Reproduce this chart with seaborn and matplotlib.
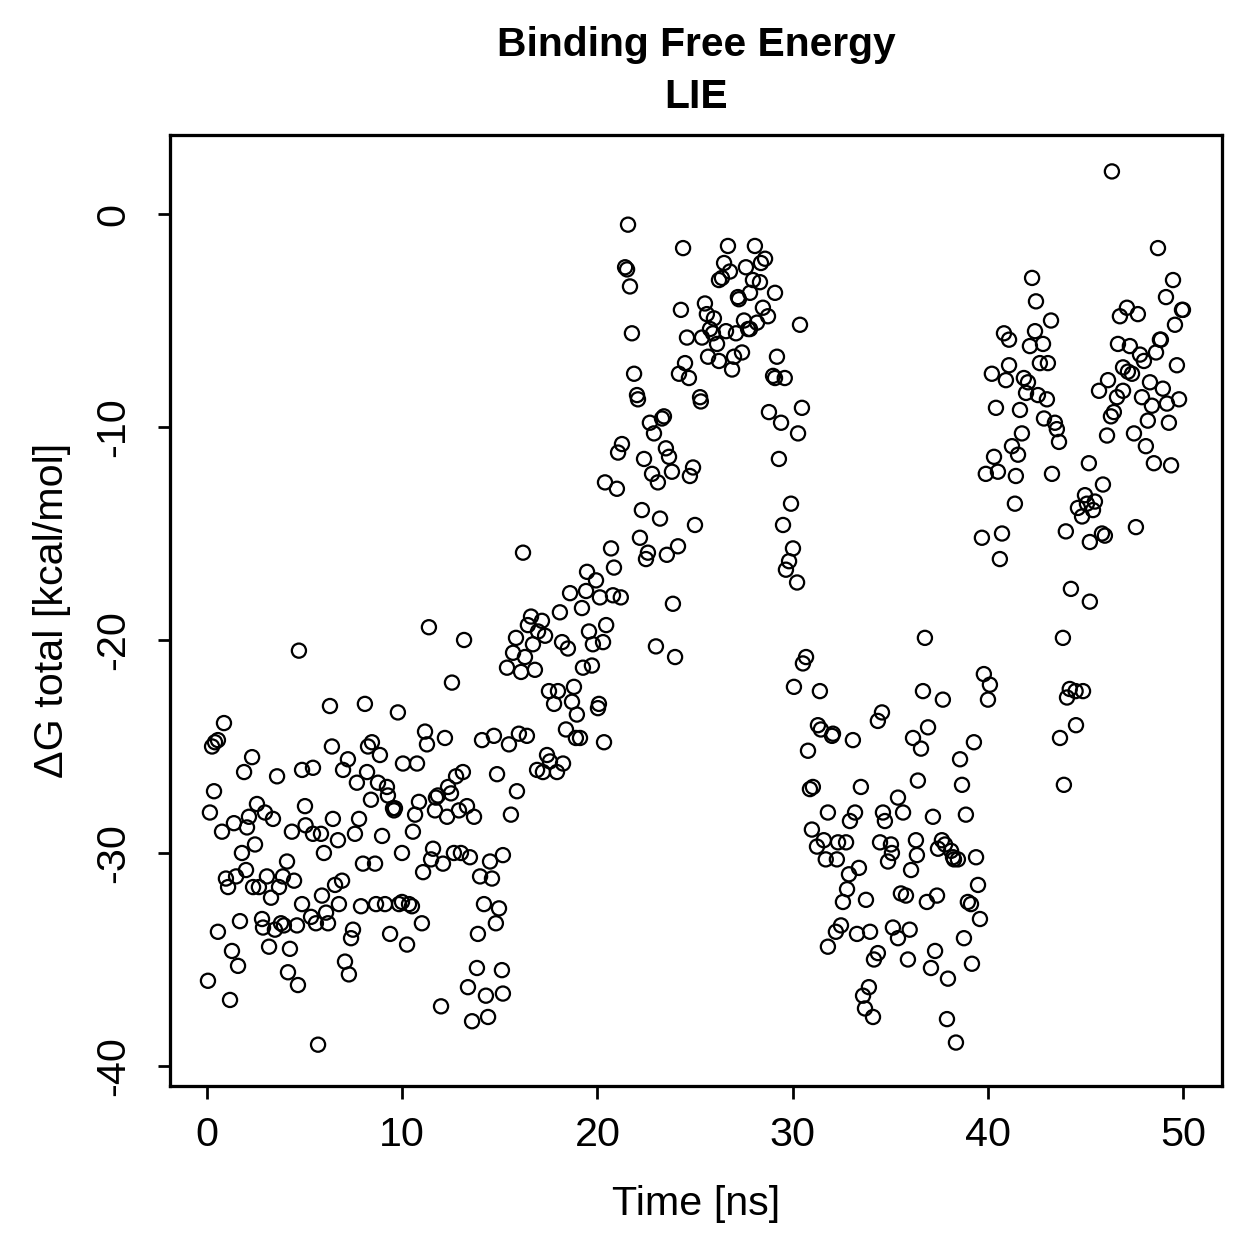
import numpy as np
import pandas as pd
import matplotlib
matplotlib.use("Agg")
import matplotlib.pyplot as plt
import seaborn as sns

# ---------------- data (time in ns, dG in kcal/mol) ----------------
time_00_05 = [4.71, 0.87, 0.56, 0.41, 0.26, 2.31, 1.90, 3.59, 4.87, 0.36, 0.15, 2.56, 2.15, 2.97, 3.38,
              1.38, 0.77, 2.05, 4.35, 5.02, 5.05, 2.46, 1.79, 4.10, 2.00, 0.97, 1.08, 1.49, 2.36, 2.66,
              3.07, 3.89, 3.69, 4.46, 3.28, 4.87, 1.69, 0.56, 2.82, 2.87, 3.48, 3.79, 3.94, 4.61, 1.28,
              3.18, 4.25, 1.59, 4.15, 4.66, 0.05, 1.18]
dg_00_05 = [-20.5, -23.9, -24.7, -24.8, -25.0, -25.5, -26.2, -26.4, -26.1, -27.1, -28.1, -27.7, -28.3, -28.1, -28.4,
            -28.6, -29.0, -28.8, -29.0, -27.8, -28.7, -29.6, -30.0, -30.4, -30.8, -31.2, -31.6, -31.1, -31.6, -31.6,
            -31.1, -31.1, -31.6, -31.3, -32.1, -32.4, -33.2, -33.7, -33.1, -33.5, -33.6, -33.3, -33.4, -33.4, -34.6,
            -34.4, -34.5, -35.3, -35.6, -36.2, -36.0, -36.9]

time_05_10 = [6.30, 8.09, 9.78, 6.40, 8.45, 8.25, 8.86, 10.04, 5.43, 7.22, 6.97, 8.20, 7.68, 8.76, 9.22,
              9.27, 8.40, 9.53, 9.63, 9.58, 6.45, 7.79, 5.43, 5.84, 6.71, 7.58, 8.97, 5.99, 9.99, 7.99,
              8.61, 6.92, 6.56, 5.89, 6.76, 7.89, 8.66, 9.12, 9.84, 9.99, 5.33, 6.10, 5.58, 6.20, 7.48,
              7.38, 9.38, 10.25, 7.07, 7.27, 5.69]
dg_05_10 = [-23.1, -23.0, -23.4, -25.0, -24.8, -25.0, -25.4, -25.8, -26.0, -25.6, -26.1, -26.2, -26.7, -26.7, -26.9,
            -27.3, -27.5, -27.9, -27.9, -28.0, -28.4, -28.4, -29.1, -29.1, -29.4, -29.1, -29.2, -30.0, -30.0, -30.5,
            -30.5, -31.3, -31.5, -32.0, -32.4, -32.5, -32.4, -32.4, -32.4, -32.3, -33.0, -32.8, -33.3, -33.3, -33.6,
            -34.0, -33.8, -34.3, -35.1, -35.7, -39.0]

time_10_15 = [11.37, 13.17, 12.55, 11.17, 11.27, 12.19, 14.09, 14.70, 10.76, 12.76, 13.11, 14.86, 12.35, 11.83, 11.73,
              12.50, 10.86, 10.66, 11.68, 12.30, 12.91, 13.32, 13.68, 10.55, 11.58, 11.48, 12.09, 12.65, 13.01, 13.47,
              11.07, 14.50, 13.99, 14.60, 15.16, 10.35, 10.50, 14.19, 14.96, 11.01, 14.80, 13.88, 13.83, 15.11, 13.37,
              14.29, 15.16, 11.99, 13.58, 14.40]
dg_10_15 = [-19.4, -20.0, -22.0, -24.3, -24.9, -24.6, -24.7, -24.5, -25.8, -26.4, -26.2, -26.3, -26.9, -27.3, -27.4,
            -27.2, -27.6, -28.2, -28.0, -28.3, -28.0, -27.8, -28.3, -29.0, -29.8, -30.3, -30.5, -30.0, -30.0, -30.2,
            -30.9, -30.4, -31.1, -31.2, -30.1, -32.4, -32.5, -32.4, -32.6, -33.3, -33.3, -33.8, -35.4, -35.5, -36.3,
            -36.7, -36.6, -37.2, -37.9, -37.7]

time_15_20 = [16.19, 19.47, 19.93, 18.60, 19.42, 20.13, 19.21, 18.08, 16.60, 17.16, 16.44, 16.96, 17.32, 15.83, 16.70,
              18.19, 18.49, 19.57, 19.77, 20.45, 20.29, 15.68, 16.29, 15.37, 16.09, 16.80, 19.26, 19.72, 17.52, 17.98,
              18.80, 17.78, 18.70, 18.95, 20.03, 20.08, 15.98, 16.39, 15.47, 18.39, 18.90, 19.11, 20.34, 17.42, 17.57,
              18.24, 16.91, 17.21, 17.93, 15.88, 15.57]
dg_15_20 = [-15.9, -16.8, -17.2, -17.8, -17.7, -18.0, -18.5, -18.7, -18.9, -19.1, -19.3, -19.6, -19.8, -19.9, -20.2,
            -20.1, -20.4, -19.6, -20.2, -19.3, -20.1, -20.6, -20.8, -21.3, -21.5, -21.4, -21.3, -21.2, -22.4, -22.4,
            -22.2, -23.0, -22.9, -23.5, -23.2, -23.0, -24.4, -24.5, -24.9, -24.2, -24.6, -24.6, -24.8, -25.4, -25.7,
            -25.8, -26.1, -26.2, -26.2, -27.1, -28.2]

time_20_25 = [21.57, 24.39, 21.42, 21.52, 21.67, 24.28, 21.77, 24.59, 21.88, 24.49, 24.18, 24.69, 22.03, 22.08, 22.69,
              22.90, 23.31, 23.41, 21.26, 21.06, 22.39, 23.51, 23.67, 24.90, 24.74, 22.80, 23.10, 23.82, 20.39, 21.00,
              22.28, 23.21, 25.00, 22.18, 20.70, 22.59, 22.49, 23.56, 24.13, 20.85, 20.80, 21.20, 23.87, 23.00, 23.98]
dg_20_25 = [-0.5, -1.6, -2.5, -2.6, -3.4, -4.5, -5.6, -5.8, -7.5, -7.0, -7.5, -7.7, -8.5, -8.7, -9.8,
            -10.3, -9.6, -9.5, -10.8, -11.2, -11.5, -11.0, -11.4, -11.9, -12.3, -12.2, -12.6, -12.1, -12.6, -12.9,
            -13.9, -14.3, -14.6, -15.2, -15.7, -15.9, -16.2, -16.0, -15.6, -16.6, -17.9, -18.0, -18.3, -20.3, -20.8]

time_25_30 = [26.69, 28.07, 28.59, 28.38, 26.49, 26.79, 26.38, 26.23, 27.61, 27.97, 28.33, 29.10, 27.82, 27.20, 27.25,
              25.51, 25.61, 25.97, 28.48, 28.74, 27.51, 27.72, 27.82, 28.18, 30.38, 25.77, 25.92, 25.36, 26.13, 26.59,
              27.10, 25.67, 26.23, 27.41, 27.00, 26.90, 29.20, 29.00, 29.10, 29.60, 25.26, 25.30, 30.48, 28.79, 29.41,
              30.28, 29.30, 29.92, 29.51, 30.02, 29.82, 29.66, 30.23]
dg_25_30 = [-1.5, -1.5, -2.1, -2.3, -2.3, -2.7, -3.0, -3.1, -2.5, -3.1, -3.2, -3.7, -3.7, -3.9, -4.0,
            -4.2, -4.7, -4.9, -4.4, -4.8, -5.0, -5.4, -5.4, -5.1, -5.2, -5.4, -5.6, -5.8, -6.1, -5.5,
            -5.6, -6.7, -6.9, -6.5, -6.7, -7.3, -6.7, -7.6, -7.7, -7.7, -8.6, -8.8, -9.1, -9.3, -9.8,
            -10.3, -11.5, -13.6, -14.6, -15.7, -16.3, -16.7, -17.3]

time_30_35 = [30.69, 30.53, 30.07, 31.40, 34.58, 34.37, 31.30, 31.45, 32.07, 32.02, 33.09, 30.79, 31.04, 30.89, 33.50,
              31.81, 33.20, 32.94, 34.63, 34.73, 30.99, 31.60, 31.25, 32.33, 32.74, 34.48, 35.04, 35.09, 34.89, 31.70,
              32.27, 33.40, 32.89, 32.79, 32.58, 33.76, 32.48, 32.22, 33.30, 33.97, 35.14, 35.40, 31.81, 34.37, 34.17,
              33.91, 33.61, 33.71, 34.12]
dg_30_35 = [-20.8, -21.1, -22.2, -22.4, -23.4, -23.8, -24.0, -24.2, -24.4, -24.5, -24.7, -25.2, -26.9, -27.0, -26.9,
            -28.1, -28.1, -28.5, -28.1, -28.5, -28.9, -29.4, -29.7, -29.5, -29.5, -29.5, -29.6, -30.0, -30.4, -30.3,
            -30.3, -30.7, -31.0, -31.7, -32.3, -32.2, -33.4, -33.7, -33.8, -33.7, -33.5, -34.0, -34.4, -34.7, -35.0,
            -36.3, -36.7, -37.3, -37.7]

time_35_40 = [36.78, 39.80, 40.11, 40.01, 36.68, 37.70, 36.94, 36.17, 36.58, 39.29, 38.58, 36.42, 38.68, 35.40, 35.66,
              37.19, 38.88, 36.32, 36.37, 37.65, 37.45, 37.81, 38.12, 38.22, 38.47, 38.27, 39.40, 36.07, 39.50, 35.55,
              35.81, 37.40, 36.88, 38.98, 39.14, 39.60, 36.00, 38.78, 37.30, 35.91, 37.09, 37.96, 39.19, 37.91, 38.37]
dg_35_40 = [-19.9, -21.6, -22.1, -22.8, -22.4, -22.8, -24.1, -24.6, -25.1, -24.8, -25.6, -26.6, -26.8, -27.4, -28.1,
            -28.3, -28.2, -29.4, -30.1, -29.4, -29.8, -29.6, -29.9, -30.2, -30.3, -30.3, -30.2, -30.8, -31.5, -31.9,
            -32.0, -32.0, -32.3, -32.3, -32.4, -33.1, -33.6, -34.0, -34.6, -35.0, -35.4, -35.9, -35.2, -37.8, -38.9]

time_40_45 = [42.27, 42.47, 43.24, 40.83, 41.09, 42.42, 42.83, 42.16, 42.67, 43.08, 41.09, 40.21, 40.93, 41.85, 42.06,
              41.96, 42.57, 43.03, 40.42, 41.65, 42.88, 43.44, 43.54, 43.65, 41.75, 41.24, 41.55, 40.32, 39.90, 40.52,
              41.44, 43.29, 45.18, 41.39, 44.98, 44.62, 44.83, 45.08, 44.00, 39.70, 40.73, 40.62, 44.26, 45.23, 43.85,
              44.20, 44.50, 44.88, 44.06, 44.52, 43.70, 43.90]
dg_40_45 = [-3.0, -4.1, -5.0, -5.6, -5.9, -5.5, -6.1, -6.2, -7.0, -7.0, -7.1, -7.5, -7.8, -7.7, -7.9,
            -8.4, -8.5, -8.7, -9.1, -9.2, -9.6, -9.8, -10.1, -10.7, -10.3, -10.9, -11.3, -11.4, -12.2, -12.1,
            -12.3, -12.2, -11.7, -13.6, -13.2, -13.8, -14.2, -13.6, -14.9, -15.2, -15.0, -16.2, -17.6, -18.2, -19.9,
            -22.3, -22.4, -22.4, -22.7, -24.0, -24.6, -26.8]

time_45_50 = [46.36, 48.72, 49.49, 49.13, 49.95, 50.00, 47.13, 46.77, 47.69, 49.59, 48.82, 48.87, 46.67, 47.28, 47.80,
              48.00, 48.62, 49.69, 46.93, 47.18, 47.39, 46.16, 45.70, 46.93, 46.62, 48.31, 48.97, 47.90, 48.41, 49.18,
              49.80, 46.46, 46.31, 48.20, 49.28, 46.11, 47.49, 48.10, 48.51, 49.39, 45.90, 45.49, 45.39, 47.59, 45.85,
              46.00, 45.23]
dg_45_50 = [2.0, -1.6, -3.1, -3.9, -4.5, -4.5, -4.4, -4.8, -4.7, -5.2, -5.9, -5.9, -6.1, -6.2, -6.6,
            -6.9, -6.5, -7.1, -7.2, -7.4, -7.5, -7.8, -8.3, -8.3, -8.6, -7.9, -8.2, -8.6, -9.0, -8.9,
            -8.7, -9.3, -9.5, -9.7, -9.8, -10.4, -10.3, -10.9, -11.7, -11.8, -12.7, -13.5, -13.9, -14.7, -15.0,
            -15.1, -15.4]

x_ticks = [0, 10, 20, 30, 40, 50]
y_ticks = [0, -10, -20, -30, -40]
title_text = "Binding Free Energy\nLIE"
x_label = "Time [ns]"
y_label = "\u0394G total [kcal/mol]"

# ---------------- assemble ----------------
times = (time_00_05 + time_05_10 + time_10_15 + time_15_20 + time_20_25 +
         time_25_30 + time_30_35 + time_35_40 + time_40_45 + time_45_50)
dgs = (dg_00_05 + dg_05_10 + dg_10_15 + dg_15_20 + dg_20_25 +
       dg_25_30 + dg_30_35 + dg_35_40 + dg_40_45 + dg_45_50)
df = pd.DataFrame({"time": times, "dg": dgs})

sns.set_style("ticks")
plt.rcParams["font.family"] = ["Liberation Sans", "DejaVu Sans"]
plt.rcParams["text.color"] = "black"
plt.rcParams["axes.labelcolor"] = "black"
plt.rcParams["xtick.color"] = "black"
plt.rcParams["ytick.color"] = "black"

W = 1259 / 180
fig = plt.figure(figsize=(W, W), dpi=180)
ax = fig.add_axes([170 / 1259, 1 - 1086 / 1259, 1052 / 1259, 951 / 1259])

sns.scatterplot(data=df, x="time", y="dg", ax=ax, marker="o", s=32,
                linewidth=0.9, edgecolor="black", legend=False)
ax.collections[0].set_facecolor("none")
ax.collections[0].set_edgecolor("black")

ax.set_xlim(-1.895, 52.0)
ax.set_ylim(-40.94, 3.71)
ax.set_xticks(x_ticks)
ax.set_yticks(y_ticks)
ax.set_xticklabels([str(v) for v in x_ticks])
ax.set_yticklabels([str(v) for v in y_ticks], rotation=90, va="center")

for sp in ax.spines.values():
    sp.set_visible(True)
    sp.set_linewidth(1.3)
    sp.set_color("black")

ax.tick_params(axis="both", direction="out", length=5, width=1.1, colors="black",
               labelsize=16.5, labelcolor="black")
ax.tick_params(axis="x", pad=7)
ax.tick_params(axis="y", pad=10)

ax.set_xlabel(x_label, fontsize=16.5, color="black")
ax.set_ylabel(y_label, fontsize=16.5, color="black")
ax.xaxis.set_label_coords(0.5, -0.104)
ax.yaxis.set_label_coords(-0.094, 0.5)

ax.set_title(title_text, fontsize=16.3, fontweight="bold", pad=11, linespacing=1.45,
             color="black")
ax.grid(False)

fig.savefig("out.png", dpi=180)
